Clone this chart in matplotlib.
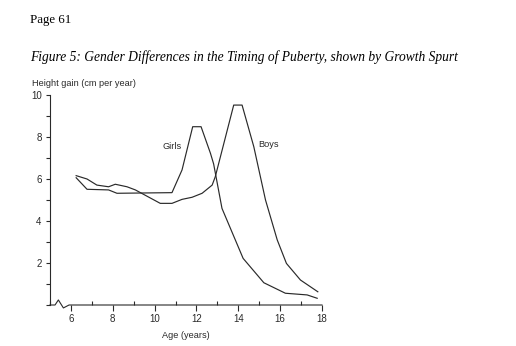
import matplotlib
matplotlib.use("Agg")
import matplotlib.pyplot as plt
from matplotlib.ticker import MultipleLocator

girls_age = [6.25, 6.77, 7.8, 8.2, 10.83, 11.31, 11.82, 12.22, 12.67, 12.82, 13.22, 14.23, 15.22, 16.25, 17.29, 17.77]
girls_gain = [6.06, 5.51, 5.48, 5.32, 5.35, 6.43, 8.49, 8.49, 7.22, 6.72, 4.6, 2.22, 1.06, 0.56, 0.48, 0.32]

boys_age = [6.25, 6.77, 7.24, 7.8, 8.12, 8.68, 9.08, 10.27, 10.83, 11.31, 11.79, 12.27, 12.75, 12.9, 13.78, 14.18, 14.74, 15.3, 15.86, 16.3, 16.97, 17.8]
boys_gain = [6.16, 6.0, 5.71, 5.63, 5.75, 5.63, 5.48, 4.84, 4.84, 5.03, 5.13, 5.32, 5.71, 6.11, 9.52, 9.52, 7.54, 5.0, 3.1, 1.98, 1.19, 0.63]

x_ticks = [6, 8, 10, 12, 14, 16, 18]
y_ticks = [2, 4, 6, 8, 10]

W, H = 516, 346
fig = plt.figure(figsize=(W / 100, H / 100), dpi=100)
fig.patch.set_facecolor("white")

sans = "Liberation Sans"
serif = "Liberation Serif"
col = "#2a2a2a"

fig.text(30 / W, 1 - 20 / H, "Page 61", family=serif, fontsize=9.3, va="center", ha="left", color="black")
fig.text(30 / W, 1 - 57 / H, "Figure 5: Gender Differences in the Timing of Puberty, shown by Growth Spurt",
         family=serif, style="italic", fontsize=9.75, va="center", ha="left", color="black")

ax = fig.add_axes([50 / W, 1 - 305 / H, 272 / W, 210 / H])
ax.set_xlim(5, 18)
ax.set_ylim(0, 10)

ax.plot(girls_age, girls_gain, color=col, lw=0.85)
ax.plot(boys_age, boys_gain, color=col, lw=0.85)

ax.text(10.85, 7.57, "Girls", family=sans, fontsize=6.6, ha="center", va="center", color=col)
ax.text(15.44, 7.62, "Boys", family=sans, fontsize=6.6, ha="center", va="center", color=col)

for s in ["top", "right", "bottom"]:
    ax.spines[s].set_visible(False)
ax.spines["left"].set_linewidth(0.8)
ax.spines["left"].set_color(col)

# bottom axis with break
bx = [5.0, 5.24, 5.40, 5.64, 5.91, 18.0]
by = [0.0, 0.0, 0.24, -0.14, 0.0, 0.0]
ax.plot(bx, by, color=col, lw=0.8, clip_on=False)

ax.set_xticks(x_ticks)
ax.set_yticks(y_ticks)
ax.xaxis.set_minor_locator(MultipleLocator(1))
ax.yaxis.set_minor_locator(MultipleLocator(1))
ax.tick_params(axis="x", which="major", direction="out", length=4.5, width=0.8, color=col, labelsize=7, pad=2)
ax.tick_params(axis="x", which="minor", direction="in", length=3, width=0.8, color=col)
ax.tick_params(axis="y", which="both", direction="out", length=3, width=0.8, color=col, labelsize=7, pad=3)
for lab in ax.get_xticklabels() + ax.get_yticklabels():
    lab.set_family(sans)
    lab.set_color(col)

fig.text(32 / W, 1 - 83 / H, "Height gain (cm per year)", family=sans, fontsize=6.6, ha="left", va="center", color=col)
fig.text(186 / W, 1 - 335 / H, "Age (years)", family=sans, fontsize=6.6, ha="center", va="center", color=col)

fig.savefig("out.png", dpi=100, facecolor="white")
